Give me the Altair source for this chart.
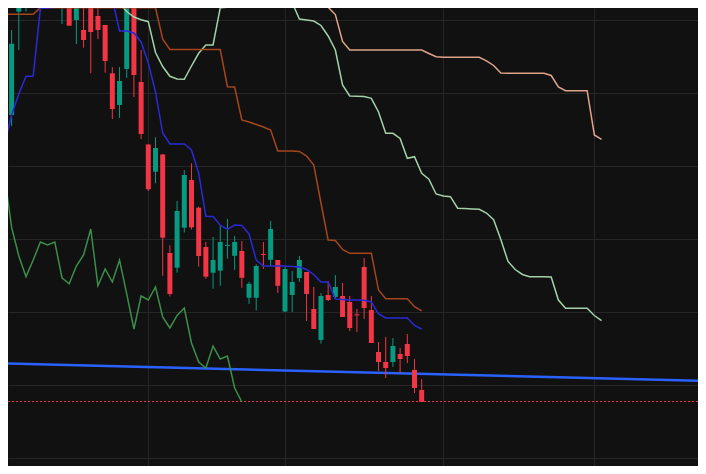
import altair as alt
import pandas as pd

# ---------------- data (price units) ----------------
opens = [137.44, 147.03, 161.18, 162.00, 163.19, 165.5, 167.2, 166.4, 163.2, 165.52,
         160.04, 158.67, 164.15, 160.59, 159.36, 152.74, 148.40, 153.33, 162.51, 151.55,
         142.99, 139.26, 141.62, 128.12, 126.11, 131.59, 138.12, 134.33, 128.94, 125.42,
         125.70, 129.10, 127.74, 128.40, 121.99, 121.99, 128.00, 127.19, 127.16, 120.11,
         122.37, 124.70, 125.52, 120.45, 116.21, 122.37, 122.10, 122.23, 121.41, 119.72,
         126.21, 120.31, 114.56, 113.19, 113.19, 114.29, 115.66, 112.10, 109.36]
highs = [142.92, 158.67, 164.83, 165.25, 166.20, 167.8, 168.9, 168.2, 168.5, 166.89,
         166.20, 163.47, 165.52, 162.10, 159.36, 153.56, 153.60, 164.15, 162.64, 155.93,
         142.99, 143.97, 141.68, 129.18, 135.25, 139.49, 140.41, 134.47, 129.63, 130.31,
         131.92, 132.78, 130.45, 129.77, 124.18, 126.58, 129.63, 132.51, 127.16, 126.21,
         125.66, 127.71, 125.52, 123.47, 122.64, 124.29, 125.11, 124.01, 122.23, 120.45,
         127.44, 122.23, 115.93, 116.62, 116.48, 115.11, 117.03, 113.60, 110.86]
lows = [136.75, 145.52, 155.93, 161.18, 161.86, 164.6, 166.0, 165.1, 159.49, 159.26,
        156.75, 156.25, 152.74, 157.44, 152.82, 146.48, 146.62, 152.10, 149.49, 143.74,
        136.62, 137.67, 125.00, 122.16, 125.42, 130.93, 131.34, 126.25, 124.60, 123.22,
        123.63, 127.33, 125.79, 123.36, 121.16, 120.25, 125.96, 126.34, 122.64, 120.04,
        120.04, 124.15, 118.81, 117.71, 115.70, 121.55, 121.82, 119.36, 117.44, 117.30,
        119.08, 115.79, 111.96, 111.00, 112.51, 111.68, 113.05, 108.94, 107.71]
closes = [142.37, 156.79, 163.88, 164.15, 165.52, 167.2, 166.4, 167.6, 167.3, 159.26,
          164.83, 157.30, 158.40, 158.67, 154.42, 147.85, 151.68, 163.47, 152.51, 144.42,
          136.85, 142.51, 130.22, 122.51, 133.88, 138.81, 131.64, 127.71, 124.88, 127.16,
          129.63, 129.24, 129.63, 124.73, 123.90, 126.34, 127.86, 131.41, 123.63, 125.93,
          124.15, 127.16, 122.51, 117.71, 122.23, 121.68, 123.47, 119.36, 117.85, 119.58,
          120.59, 115.79, 113.19, 112.37, 115.38, 113.60, 114.01, 109.63, 107.71]

conversion = [142.99, 147.03, 149.90, 152.33, 152.33, 161.64, 161.68, 161.78, 163.05, 164.5,
              165.2, 165.2, 165.0, 164.5, 163.8, 162.92, 158.53, 158.53, 158.26, 157.03,
              154.15, 150.18, 144.56, 143.05, 143.05, 143.05, 142.23, 139.08, 133.15, 133.12,
              131.92, 131.37, 131.96, 131.89, 130.73, 127.16, 126.34, 126.34, 126.34, 126.34,
              126.27, 126.21, 125.86, 125.18, 124.15, 124.15, 121.82, 121.75, 121.68, 121.68,
              121.64, 121.41, 119.77, 119.22, 119.22, 119.22, 119.22, 118.19, 117.71]
base = [160.82, 160.82, 160.82, 160.82, 160.82, 161.73, 161.73, 161.73, 161.73, 161.73,
        161.73, 161.73, 161.73, 161.73, 161.73, 161.73, 161.73, 161.73, 161.73, 161.73,
        161.73, 161.73, 157.40, 156.00, 156.00, 156.00, 156.00, 156.00, 156.00, 156.00,
        156.00, 150.90, 150.86, 146.34, 146.07, 145.73, 145.38, 144.97, 142.10, 142.10,
        142.10, 142.03, 141.41, 140.18, 134.97, 129.90, 129.84, 128.60, 128.08, 128.08,
        128.08, 128.08, 123.05, 121.86, 121.86, 121.86, 121.86, 120.77, 120.18]
span_a_start = 14
span_a = [163.5, 162.90, 162.30, 161.20, 160.45, 160.08, 159.81, 155.59, 153.67, 152.33,
          151.96, 151.92, 153.74, 155.48, 156.62, 156.62, 161.71, 161.78, 161.82, 162.37,
          163.60, 164.3, 164.8, 164.5, 163.9, 162.92, 162.42, 160.18, 160.04, 159.90,
          159.29, 157.85, 155.93, 151.14, 149.63, 149.59, 149.56, 149.31, 147.44, 144.52,
          144.52, 143.81, 141.10, 141.31, 139.04, 138.23, 136.21, 135.93, 135.84, 134.25,
          134.21, 134.15, 134.11, 133.60, 132.68, 129.97, 126.96, 125.86, 125.18, 124.88,
          124.88, 124.88, 124.84, 121.68, 120.55, 120.55, 120.55, 120.55, 119.56, 118.85]
span_b_start = 38
span_b = [163.4, 162.85, 162.71, 162.57, 162.37, 161.78, 161.78, 161.78, 160.79, 157.10,
          155.93, 155.93, 155.93, 155.93, 155.93, 155.93, 155.93, 155.93, 155.93, 155.93,
          155.93, 155.45, 155.01, 154.93, 154.93, 154.93, 154.93, 154.93, 154.93, 154.45,
          153.81, 152.78, 152.74, 152.74, 152.74, 152.74, 152.74, 152.74, 152.44, 150.86,
          150.36, 150.36, 150.36, 150.36, 144.29, 143.70]
lag_shift = 25

trend_i = [-5, 100]
trend_p = [113.11, 110.54]

last_price = [107.78]

grid_x = [20, 39, 61, 82]
grid_y = [100, 105, 110, 115, 120, 125, 130, 135, 140, 145, 150, 155, 160]

# ---------------- styles ----------------
BG = "#111111"
GRID = "#262626"
UP = "#089981"
DOWN = "#f23645"

n = len(closes)
candles = pd.DataFrame({"i": list(range(n)), "open": opens, "high": highs,
                        "low": lows, "close": closes})
candles["dir"] = ["up" if c >= o else "down" for o, c in zip(opens, closes)]

conv_df = pd.DataFrame({"i": list(range(n)), "v": conversion})
base_df = pd.DataFrame({"i": list(range(n)), "v": base})
a_df = pd.DataFrame({"i": list(range(span_a_start, span_a_start + len(span_a))), "v": span_a})
b_df = pd.DataFrame({"i": list(range(span_b_start, span_b_start + len(span_b))), "v": span_b})
lag_df = pd.DataFrame({"i": list(range(n - lag_shift)), "v": closes[lag_shift:]})
trend_df = pd.DataFrame({"i": trend_i, "v": trend_p})
last_df = pd.DataFrame({"v": last_price})

xs = alt.Scale(domain=[1.192, 95.712], nice=False, zero=False)
ys = alt.Scale(domain=[98.944, 161.684], nice=False, zero=False)

x_axis = alt.Axis(values=grid_x, grid=True, labels=False, ticks=False, domain=False,
                  title=None, gridColor=GRID, gridWidth=1)
y_axis = alt.Axis(values=grid_y, grid=True, labels=False, ticks=False, domain=False,
                  title=None, gridColor=GRID, gridWidth=1)

color = alt.Color("dir:N", scale=alt.Scale(domain=["up", "down"], range=[UP, DOWN]),
                  legend=None)


def line(df, col, width=1.5):
    return alt.Chart(df).mark_line(color=col, strokeWidth=width, clip=True).encode(
        x=alt.X("i:Q", scale=xs), y=alt.Y("v:Q", scale=ys))


grid = alt.Chart(candles).mark_point(opacity=0).encode(
    x=alt.X("i:Q", scale=xs, axis=x_axis), y=alt.Y("close:Q", scale=ys, axis=y_axis))

trend = line(trend_df, "#2962ff", 2.5)

price_line = alt.Chart(last_df).mark_rule(color="#f23645", strokeWidth=1.2, strokeDash=[2, 2],
                                          clip=True).encode(y=alt.Y("v:Q", scale=ys))

wicks = alt.Chart(candles).mark_rule(strokeWidth=1, clip=True).encode(
    x=alt.X("i:Q", scale=xs), y=alt.Y("low:Q", scale=ys), y2="high:Q", color=color)

bodies = alt.Chart(candles).mark_bar(size=5, clip=True).encode(
    x=alt.X("i:Q", scale=xs), y=alt.Y("open:Q", scale=ys), y2="close:Q", color=color)

chart = alt.layer(
    grid,
    trend,
    price_line,
    wicks,
    bodies,
    line(lag_df, "#3b8f4b"),
    line(a_df, "#a3d2a9"),
    line(b_df, "#dfa489"),
    line(base_df, "#a5461d"),
    line(conv_df, "#2a2ad8"),
).properties(
    width=690, height=458, background=BG, padding=0,
    autosize=alt.AutoSizeParams(type="none"),
).configure_view(stroke=None)

chart.save("out.html", embed_options={"renderer": "svg", "actions": False})
